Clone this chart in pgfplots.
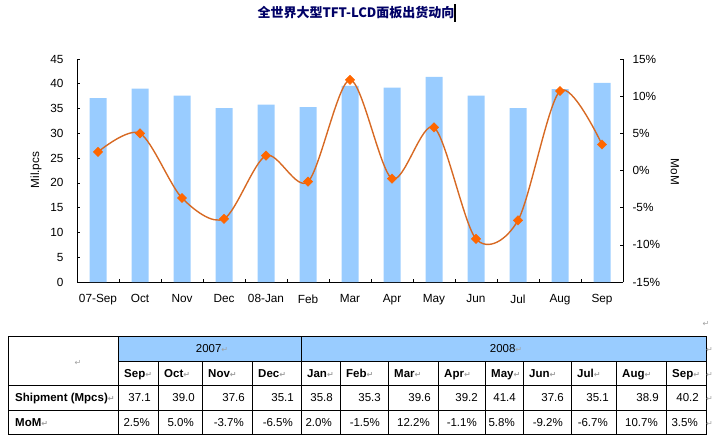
\documentclass[border=0pt]{standalone}
\usepackage{pgfplots}
\pgfplotsset{compat=1.18}
\usepackage{fontspec}
\setmainfont{Liberation Sans}
\newfontfamily\cjk{Noto Sans CJK SC}
\newfontfamily\dejavu{DejaVu Sans}
\definecolor{barblue}{RGB}{153,204,255}
\definecolor{lineorange}{RGB}{215,105,35}
\definecolor{markorange}{RGB}{255,102,0}
\definecolor{titleblue}{RGB}{0,0,102}
\definecolor{mk}{RGB}{160,160,160}
\newcommand{\retm}{{\dejavu\color{mk}\fontsize{8bp}{9bp}\selectfont ↵}}
\begin{document}
\begin{tikzpicture}
\path[use as bounding box] (0,0) rectangle (713bp,-442bp);
% ---------- chart ----------
\begin{axis}[
  at={(77bp,-282bp)}, anchor=south west,
  width=546bp, height=223bp, scale only axis,
  xmin=-0.5, xmax=12.5, ymin=0, ymax=45,
  axis y line*=left, axis x line*=bottom,
  xtick={0,...,12},
  xticklabels={07-Sep,Oct,Nov,Dec,08-Jan,Feb,Mar,Apr,May,Jun,Jul,Aug,Sep},
  minor xtick={-0.5,0.5,...,12.5},
  ytick={0,5,...,45},
  major x tick style={draw=none},
  tick style={black, line width=0.6pt},
  major tick length=3bp, minor tick length=3.5bp,
  tick align=inside,
  axis line style={black, line width=0.6pt},
  ticklabel style={font=\fontsize{11.8bp}{13bp}\selectfont},
  yticklabel style={xshift=-10bp},
  xticklabel style={yshift=-9bp},
  /pgf/number format/assume math mode=true,
]
\addplot[ybar, bar width=17bp, fill=barblue, draw=none] coordinates {
 (0,37.1) (1,39.0) (2,37.6) (3,35.1) (4,35.8) (5,35.3) (6,39.6)
 (7,39.2) (8,41.4) (9,37.6) (10,35.1) (11,38.9) (12,40.2)};
\end{axis}
\begin{axis}[
  at={(77bp,-282bp)}, anchor=south west,
  width=546bp, height=223bp, scale only axis,
  xmin=-0.5, xmax=12.5, ymin=-15, ymax=15,
  axis y line*=right, axis x line=none,
  ytick={-15,-10,-5,0,5,10,15},
  yticklabels={-15\%,-10\%,-5\%,0\%,5\%,10\%,15\%},
  tick style={black, line width=0.6pt},
  major tick length=3bp,
  tick align=inside,
  axis line style={black, line width=0.6pt},
  ticklabel style={font=\fontsize{11.8bp}{13bp}\selectfont},
  yticklabel style={xshift=6bp},
]
\addplot[smooth, color=lineorange, line width=1.4pt,
  mark=square*, mark size=3.3bp,
  mark options={rotate=45, fill=markorange, draw=markorange, line width=0.4pt}]
 coordinates {
 (0,2.5) (1,5.0) (2,-3.7) (3,-6.5) (4,2.0) (5,-1.5) (6,12.2)
 (7,-1.1) (8,5.8) (9,-9.2) (10,-6.7) (11,10.7) (12,3.5)};
\end{axis}
% ---------- title, labels, table ----------
\begin{scope}[x=1bp, y=-1bp]
\node[inner sep=0, text=titleblue, font=\cjk\bfseries\fontsize{13bp}{15bp}\selectfont] at (356,13) {全世界大型TFT-LCD面板出货动向};
\fill[black] (453.5,4) rectangle (455.5,22);
\node[rotate=90, inner sep=0, font=\fontsize{11.8bp}{13bp}\selectfont] at (36,170) {Mil.pcs};
\node[rotate=-90, inner sep=0, font=\fontsize{11.8bp}{13bp}\selectfont] at (675,172) {MoM};
% table
\fill[barblue] (118,336) rectangle (706,361);
\begin{scope}[line width=0.7pt, black]
\draw (8,336) rectangle (706,434);
\draw (118,361) -- (706,361);
\draw (8,385) -- (706,385);
\draw (8,410) -- (706,410);
\draw (118,336) -- (118,434);
\draw (301,336) -- (301,434);
\foreach \c in {158,202,252,340,388,438,485,523,571,616,666}
  \draw (\c,361) -- (\c,434);
\end{scope}
\begin{scope}[every node/.style={inner sep=0, font=\fontsize{11.5bp}{13bp}\selectfont}]
\node[anchor=base] at (78,365) {\retm};
\node[anchor=base] at (212,352.6) {2007\retm};
\node[anchor=base] at (506,352.6) {2008\retm};
\node[anchor=base west] at (15,401.6) {\bfseries Shipment (Mpcs)\retm};
\node[anchor=base west] at (15,426.1) {\bfseries MoM\retm};
\foreach \l/\r/\m/\s/\g in {
  118/158/Sep/37.1/2.5\%, 158/202/Oct/39.0/5.0\%, 202/252/Nov/37.6/-3.7\%,
  252/301/Dec/35.1/-6.5\%, 301/340/Jan/35.8/2.0\%, 340/388/Feb/35.3/-1.5\%,
  388/438/Mar/39.6/12.2\%, 438/485/Apr/39.2/-1.1\%, 485/523/May/41.4/5.8\%,
  523/571/Jun/37.6/-9.2\%, 571/616/Jul/35.1/-6.7\%, 616/666/Aug/38.9/10.7\%,
  666/706/Sep/40.2/3.5\%} {
  \node[anchor=base west] at (\l+6,377.1) {\bfseries \m\retm};
  \node[anchor=base east] at (\r-7,401.6) {\s};
  \node[anchor=base east] at (\r-8,426.1) {\g};
}
\node[anchor=base] at (706,326) {\retm};
\foreach \y in {352.6,377.1,401.6,426.1} \node[anchor=base east] at (713,\y) {\retm};
\end{scope}
\end{scope}
\end{tikzpicture}
\end{document}
